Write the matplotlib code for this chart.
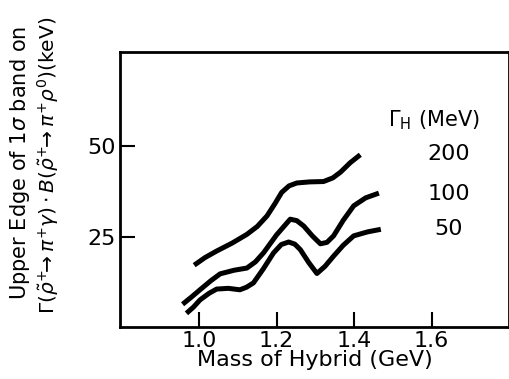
import matplotlib
matplotlib.use("Agg")
import matplotlib.pyplot as plt

plt.rcParams['font.family'] = ['DejaVu Sans']
plt.rcParams['mathtext.fontset'] = 'dejavusans'

# curve readings (mass in GeV, upper edge in keV)
mass_200 = [0.987, 1.015, 1.045, 1.085, 1.123, 1.150, 1.175, 1.195, 1.213, 1.232, 1.252, 1.285, 1.321, 1.345, 1.365, 1.390, 1.416]
edge_200 = [17.1, 19.2, 21.0, 23.2, 25.6, 27.8, 30.7, 34.0, 37.2, 39.0, 39.8, 40.1, 40.2, 41.2, 42.8, 45.4, 47.6]

mass_100 = [0.957, 0.980, 1.002, 1.030, 1.054, 1.090, 1.123, 1.145, 1.166, 1.200, 1.235, 1.252, 1.270, 1.292, 1.313, 1.330, 1.347, 1.372, 1.399, 1.430, 1.464]
edge_100 = [6.3, 8.3, 10.3, 12.8, 14.7, 15.7, 16.3, 18.0, 20.5, 25.5, 29.8, 29.4, 27.9, 25.2, 23.0, 23.4, 25.2, 29.5, 33.5, 35.7, 37.0]

mass_50 = [0.967, 0.985, 1.002, 1.025, 1.045, 1.075, 1.105, 1.122, 1.140, 1.165, 1.192, 1.212, 1.231, 1.247, 1.261, 1.283, 1.304, 1.325, 1.347, 1.372, 1.399, 1.435, 1.469]
edge_50 = [3.8, 5.5, 7.5, 9.3, 10.5, 10.7, 10.3, 11.0, 12.2, 16.0, 20.5, 22.8, 23.5, 22.9, 21.4, 17.8, 14.8, 16.8, 19.6, 22.6, 25.2, 26.3, 27.0]

widths = ['200', '100', '50']
xticks = [1.0, 1.2, 1.4, 1.6]
yticks = [25, 50]

fig = plt.figure(figsize=(5.10, 3.79), dpi=100)
ax = fig.add_axes([0.235, 0.137, 0.763, 0.726])

for xs, ys in [(mass_200, edge_200), (mass_100, edge_100), (mass_50, edge_50)]:
    ax.plot(xs, ys, color='black', lw=3.6, solid_capstyle='butt', solid_joinstyle='round')

ax.set_xlim(0.795, 1.80)
ax.set_ylim(0, 76)
ax.set_xticks(xticks)
ax.set_xticklabels(['1.0', '1.2', '1.4', '1.6'])
ax.set_yticks(yticks)
ax.tick_params(direction='in', length=11, width=1.5, labelsize=16, pad=3)
for s in ax.spines.values():
    s.set_linewidth(2)

ax.set_xlabel('Mass of Hybrid (GeV)', fontsize=16, labelpad=-1)
fig.text(0.04, 0.57, 'Upper Edge of 1$\\sigma$ band on', rotation=90,
         ha='center', va='center', fontsize=15)
fig.text(0.095, 0.565,
         r'$\Gamma(\tilde{\rho}^{+}\!\!\rightarrow\pi^{+}\gamma)\cdot B(\tilde{\rho}^{+}\!\!\rightarrow\pi^{+}\rho^{0})$(keV)',
         rotation=90, ha='center', va='center', fontsize=14.5)

# legend-like labels
ax.text(1.487, 57.1, r'$\Gamma_{\mathrm{H}}$ (MeV)', ha='left', va='center', fontsize=15)
label_y = [47.9, 36.8, 27.0]
for w, yy in zip(widths, label_y):
    ax.text(1.645, yy, w, ha='center', va='center', fontsize=16)

fig.savefig('out.png', dpi=100)
